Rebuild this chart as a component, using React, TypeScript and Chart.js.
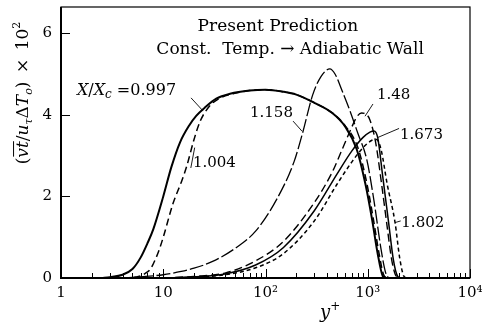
import React, { useEffect, useRef } from "react";
import { Chart, registerables } from "chart.js";
Chart.register(...registerables);

// ---------- data (y+ , value x10^2) ----------
const x0997 = [2.5, 3, 4, 5, 6, 7, 8, 10, 12, 14.6, 18, 21, 26, 33, 45, 70, 100, 150, 200, 300, 450, 600, 780, 950, 1100, 1250, 1400, 1500];
const v0997 = [0, 0.02, 0.08, 0.22, 0.5, 0.85, 1.2, 2.0, 2.72, 3.33, 3.75, 3.98, 4.2, 4.4, 4.52, 4.6, 4.62, 4.57, 4.5, 4.3, 4.05, 3.72, 3.16, 2.3, 1.45, 0.6, 0.05, 0];

const x1004 = [4, 5, 6, 7, 7.5, 8, 9, 10, 12.5, 15, 17, 20, 23, 28, 35, 50, 70, 100, 150, 200, 300, 450, 600, 800, 975, 1125, 1280, 1430, 1550];
const v1004 = [0, 0.01, 0.05, 0.15, 0.22, 0.35, 0.65, 1.0, 1.84, 2.35, 2.75, 3.4, 3.85, 4.2, 4.4, 4.53, 4.6, 4.62, 4.57, 4.5, 4.3, 4.05, 3.74, 3.2, 2.35, 1.5, 0.65, 0.08, 0];

const x1158 = [4, 6, 10, 15, 20, 30, 50, 80, 130, 190, 230, 290, 350, 425, 480, 560, 670, 800, 980, 1150, 1350, 1500, 1600];
const v1158 = [0, 0.03, 0.08, 0.16, 0.24, 0.4, 0.72, 1.15, 1.95, 2.85, 3.55, 4.5, 4.95, 5.13, 5.0, 4.6, 4.1, 3.55, 2.9, 1.9, 0.7, 0.12, 0];

const x148 = [10, 20, 40, 80, 150, 300, 450, 550, 670, 780, 870, 960, 1050, 1200, 1350, 1530, 1700, 1850, 2000];
const v148 = [0, 0.04, 0.12, 0.42, 0.9, 1.85, 2.6, 3.1, 3.6, 3.95, 4.05, 4.02, 3.88, 3.3, 2.4, 1.36, 0.5, 0.1, 0];

const x1673 = [10, 20, 40, 80, 150, 300, 500, 700, 900, 1050, 1150, 1250, 1400, 1600, 1780, 1950, 2100];
const v1673 = [0, 0.03, 0.1, 0.32, 0.75, 1.65, 2.55, 3.12, 3.45, 3.58, 3.61, 3.45, 2.5, 1.36, 0.45, 0.05, 0];

const x1802 = [10, 20, 40, 80, 150, 300, 500, 700, 900, 1100, 1220, 1350, 1550, 1850, 2050, 2250, 2400];
const v1802 = [0, 0.02, 0.08, 0.25, 0.6, 1.4, 2.3, 2.85, 3.2, 3.38, 3.4, 3.15, 2.3, 1.36, 0.5, 0.05, 0];

const seriesNames = ["0.997", "1.004", "1.158", "1.48", "1.673", "1.802"];

const xMajorTicks = [1, 10, 100, 1000, 10000];
const xTickLabels = ["1", "10", "10\u00B2", "10\u00B3", "10\u2074"];
const yTicks = [0, 2, 4, 6];
const yTickLabels = ["0", "2", "4", "6"];

const titleLine1 = "Present Prediction";
const titleLine2 = "Const.  Temp. \u2192 Adiabatic Wall";

const SERIF = '"DejaVu Serif", serif';

type Seg = { t: string; it?: boolean; sz?: number; dy?: number; over?: boolean };

function drawRich(ctx: CanvasRenderingContext2D, segs: Seg[], x: number, y: number, base: number, align: "left" | "center" | "right") {
  const fontOf = (s: Seg) => `${s.it ? "italic " : ""}${s.sz ?? base}px ${SERIF}`;
  const widths: number[] = [];
  let w = 0;
  for (const s of segs) {
    ctx.font = fontOf(s);
    const m = ctx.measureText(s.t).width;
    widths.push(m);
    w += m;
  }
  let cx = align === "center" ? x - w / 2 : align === "right" ? x - w : x;
  ctx.textAlign = "left";
  ctx.textBaseline = "alphabetic";
  segs.forEach((s, i) => {
    ctx.font = fontOf(s);
    ctx.fillText(s.t, cx, y + (s.dy ?? 0));
    if (s.over) {
      const sz = s.sz ?? base;
      ctx.lineWidth = 1;
      ctx.beginPath();
      ctx.moveTo(cx + 1, y - sz * 0.85);
      ctx.lineTo(cx + widths[i], y - sz * 0.85);
      ctx.stroke();
    }
    cx += widths[i];
  });
}

type Note = { segs: Seg[]; at: [number, number]; align: "left" | "center"; size: number; ptr?: [number, number][] };

const notes: Note[] = [
  { segs: [{ t: titleLine1 }], at: [132, 6.07], align: "center", size: 17 },
  { segs: [{ t: titleLine2 }], at: [174, 5.5], align: "center", size: 17 },
  {
    segs: [{ t: "X", it: true }, { t: "/" }, { t: "X", it: true }, { t: "c", it: true, sz: 12, dy: 3 }, { t: " =" + seriesNames[0] }],
    at: [1.43, 4.49], align: "left", size: 16,
    ptr: [[18.7, 4.42], [24.5, 4.1]],
  },
  { segs: [{ t: seriesNames[1] }], at: [19.5, 2.72], align: "left", size: 15, ptr: [[18.6, 2.7], [20.3, 3.2]] },
  { segs: [{ t: seriesNames[2] }], at: [70.5, 3.95], align: "left", size: 15, ptr: [[186, 3.85], [228, 3.6]] },
  { segs: [{ t: seriesNames[3] }], at: [1230, 4.39], align: "left", size: 15, ptr: [[1125, 4.27], [940, 3.97]] },
  { segs: [{ t: seriesNames[4] }], at: [2067, 3.41], align: "left", size: 15, ptr: [[2024, 3.67], [1260, 3.45]] },
  { segs: [{ t: seriesNames[5] }], at: [2130, 1.26], align: "left", size: 15, ptr: [[2100, 1.4], [1850, 1.36]] },
];

const deco = {
  id: "deco",
  afterDraw(chart: any) {
    const { ctx, chartArea: a, scales } = chart;
    const xs = scales.x;
    const ys = scales.y;
    ctx.save();
    ctx.strokeStyle = "#000";
    ctx.fillStyle = "#000";
    // frame
    ctx.lineWidth = 1.2;
    ctx.strokeRect(a.left, a.top, a.right - a.left, a.bottom - a.top);
    ctx.lineWidth = 2;
    ctx.beginPath();
    ctx.moveTo(a.left, a.top);
    ctx.lineTo(a.left, a.bottom);
    ctx.lineTo(a.right, a.bottom);
    ctx.stroke();
    // x ticks (inward)
    ctx.lineWidth = 1;
    for (const t of xs.ticks) {
      const px = Math.round(xs.getPixelForValue(t.value)) + 0.5;
      const len = xMajorTicks.includes(t.value) ? 9 : 5;
      ctx.beginPath();
      ctx.moveTo(px, a.bottom);
      ctx.lineTo(px, a.bottom - len);
      ctx.stroke();
    }
    // y ticks
    for (const v of yTicks) {
      const py = Math.round(ys.getPixelForValue(v)) + 0.5;
      ctx.beginPath();
      ctx.moveTo(a.left, py);
      ctx.lineTo(a.left + 9, py);
      ctx.stroke();
    }
    // annotations
    for (const n of notes) {
      const px = xs.getPixelForValue(n.at[0]);
      const py = ys.getPixelForValue(n.at[1]);
      drawRich(ctx, n.segs, px, py, n.size, n.align);
      if (n.ptr) {
        ctx.lineWidth = 0.9;
        ctx.beginPath();
        n.ptr.forEach((p, i) => {
          const qx = xs.getPixelForValue(p[0]);
          const qy = ys.getPixelForValue(p[1]);
          if (i === 0) ctx.moveTo(qx, qy);
          else ctx.lineTo(qx, qy);
        });
        ctx.stroke();
      }
    }
    // y-axis title (rotated)
    ctx.save();
    ctx.translate(28, 93);
    ctx.rotate(-Math.PI / 2);
    drawRich(
      ctx,
      [
        { t: "(" },
        { t: "vt", it: true, over: true },
        { t: "/" },
        { t: "u", it: true },
        { t: "\u03C4", it: true, sz: 11, dy: 4 },
        { t: "\u0394" },
        { t: "T", it: true },
        { t: "o", it: true, sz: 11, dy: 4 },
        { t: ")\u2002\u00D7\u200210" },
        { t: "2", sz: 11, dy: -8 },
      ],
      0,
      0,
      17,
      "center"
    );
    ctx.restore();
    // x-axis title
    drawRich(ctx, [{ t: "y", it: true }, { t: "+", sz: 12, dy: -8 }], 320, 318, 18, "left");
    ctx.restore();
  },
};

function pts(xs: number[], vs: number[]) {
  return xs.map((x, i) => ({ x, y: vs[i] }));
}

export default function App() {
  const ref = useRef<HTMLCanvasElement>(null);
  useEffect(() => {
    const allXTicks: number[] = [];
    for (let d = 1; d < 10000; d *= 10) for (let k = 1; k < 10; k++) allXTicks.push(k * d);
    allXTicks.push(10000);

    const base = { borderColor: "#000", pointRadius: 0, fill: false, cubicInterpolationMode: "monotone" as const };
    const chart = new Chart(ref.current!, {
      type: "line",
      data: {
        datasets: [
          { ...base, label: seriesNames[0], data: pts(x0997, v0997), borderWidth: 2 },
          { ...base, label: seriesNames[1], data: pts(x1004, v1004), borderWidth: 1.5, borderDash: [7, 4] },
          { ...base, label: seriesNames[2], data: pts(x1158, v1158), borderWidth: 1.3, borderDash: [14, 3] },
          { ...base, label: seriesNames[3], data: pts(x148, v148), borderWidth: 1.4, borderDash: [8, 4] },
          { ...base, label: seriesNames[4], data: pts(x1673, v1673), borderWidth: 1.5 },
          { ...base, label: seriesNames[5], data: pts(x1802, v1802), borderWidth: 1.5, borderDash: [4, 3] },
        ],
      },
      options: {
        responsive: false,
        animation: false,
        devicePixelRatio: 1,
        layout: { padding: { left: 0, top: 7, right: 19, bottom: 0 } },
        plugins: { legend: { display: false }, tooltip: { enabled: false } },
        scales: {
          x: {
            type: "logarithmic",
            min: 1,
            max: 10000,
            grid: { display: false, drawTicks: false },
            border: { display: false },
            afterBuildTicks: (s: any) => {
              s.ticks = allXTicks.map((v) => ({ value: v }));
            },
            afterFit: (s: any) => {
              s.height = 48;
              s.paddingLeft = 0;
              s.paddingRight = 0;
            },
            ticks: {
              autoSkip: false,
              maxRotation: 0,
              minRotation: 0,
              padding: 6,
              color: "#000",
              font: { family: SERIF, size: 15 },
              callback: (v: any) => {
                const i = xMajorTicks.indexOf(Number(v));
                return i >= 0 ? xTickLabels[i] : "";
              },
            },
          },
          y: {
            type: "linear",
            min: 0,
            max: 6.65,
            grid: { display: false, drawTicks: false },
            border: { display: false },
            afterBuildTicks: (s: any) => {
              s.ticks = yTicks.map((v) => ({ value: v }));
            },
            afterFit: (s: any) => {
              s.width = 61;
              s.paddingTop = 0;
              s.paddingBottom = 0;
            },
            ticks: {
              padding: 9,
              color: "#000",
              font: { family: SERIF, size: 15 },
              callback: (v: any) => {
                const i = yTicks.indexOf(Number(v));
                return i >= 0 ? yTickLabels[i] : "";
              },
            },
          },
        },
      },
      plugins: [deco],
    });
    return () => chart.destroy();
  }, []);
  return (
    <div style={{ position: "fixed", left: 0, top: 0, width: 489, height: 326, background: "#fff" }}>
      <canvas ref={ref} width={489} height={326} style={{ display: "block", width: 489, height: 326 }} />
    </div>
  );
}
